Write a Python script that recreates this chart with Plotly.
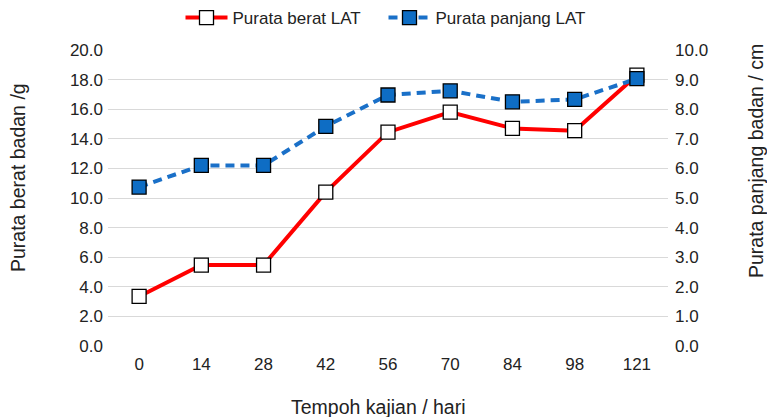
import plotly.graph_objects as go

days = ["0", "14", "28", "42", "56", "70", "84", "98", "121"]
weight = [3.35, 5.47, 5.47, 10.4, 14.45, 15.8, 14.7, 14.55, 18.3]
length = [5.37, 6.1, 6.1, 7.42, 8.48, 8.62, 8.25, 8.33, 9.03]
left_ticks = [0, 2, 4, 6, 8, 10, 12, 14, 16, 18, 20]
right_ticks = [0, 1, 2, 3, 4, 5, 6, 7, 8, 9, 10]

FONT = "Liberation Sans, Arial, sans-serif"
W, H = 767, 417
L, R, T, B = 108, 668, 50, 346

def px_x(p):
    return (p - L) / (R - L)

def px_y(p):
    return (B - p) / (B - T)

fig = go.Figure()
fig.add_trace(go.Scatter(
    x=days, y=weight, name="Purata berat LAT", mode="lines+markers",
    line=dict(color="#FF0000", width=4),
    marker=dict(symbol="square", size=14, color="white",
                line=dict(color="black", width=1.3)),
    yaxis="y",
))
fig.add_trace(go.Scatter(
    x=days, y=length, name="Purata panjang LAT", mode="lines+markers",
    line=dict(color="#1A70C8", width=4, dash="9px,6px"),
    marker=dict(symbol="square", size=14, color="#0E6DC4",
                line=dict(color="black", width=1.3)),
    yaxis="y2",
))

fig.update_layout(
    width=W, height=H,
    margin=dict(l=L, r=W - R, t=T, b=H - B, autoexpand=False),
    paper_bgcolor="white", plot_bgcolor="white",
    font=dict(family=FONT, size=17, color="#222222"),
    showlegend=True,
    legend=dict(orientation="h", x=0.5, xanchor="center", xref="container",
                y=px_y(18), yref="paper", yanchor="middle",
                font=dict(size=17, color="#222222"), itemwidth=42,
                entrywidth=146, entrywidthmode="pixels"),
    xaxis=dict(type="category", range=[-0.5, len(days) - 0.5],
               showgrid=False, zeroline=False, showline=False,
               ticks="", tickfont=dict(size=17), ticklabelstandoff=6,
               automargin=False),
    yaxis=dict(range=[0, 20], tickvals=left_ticks, tickformat=".1f",
               showgrid=True, gridcolor="#D9D9D9", gridwidth=1.3,
               zeroline=False, showline=False, ticks="", tickfont=dict(size=17),
               ticklabelstandoff=4, automargin=False),
    yaxis2=dict(range=[0, 10], tickvals=right_ticks, tickformat=".1f",
                overlaying="y", side="right", showgrid=False, zeroline=False,
                showline=False, ticks="", tickfont=dict(size=17),
                ticklabelstandoff=6, automargin=False),
    annotations=[
        dict(text="Purata berat badan /g", xref="paper", yref="paper",
             x=px_x(18), y=px_y(178), xanchor="center", yanchor="middle",
             textangle=-90, showarrow=False,
             font=dict(size=19.5, color="#222222")),
        dict(text="Purata panjang badan / cm", xref="paper", yref="paper",
             x=px_x(756), y=px_y(161), xanchor="center", yanchor="middle",
             textangle=-90, showarrow=False,
             font=dict(size=19.5, color="#222222")),
        dict(text="Tempoh kajian / hari", xref="paper", yref="paper",
             x=px_x(378), y=px_y(407), xanchor="center", yanchor="middle",
             showarrow=False,
             font=dict(size=19.5, color="#222222")),
    ],
)

fig.write_html("out.html",
               config={"displayModeBar": False},
               post_script="document.body.style.margin='0';document.body.style.overflow='hidden';")
